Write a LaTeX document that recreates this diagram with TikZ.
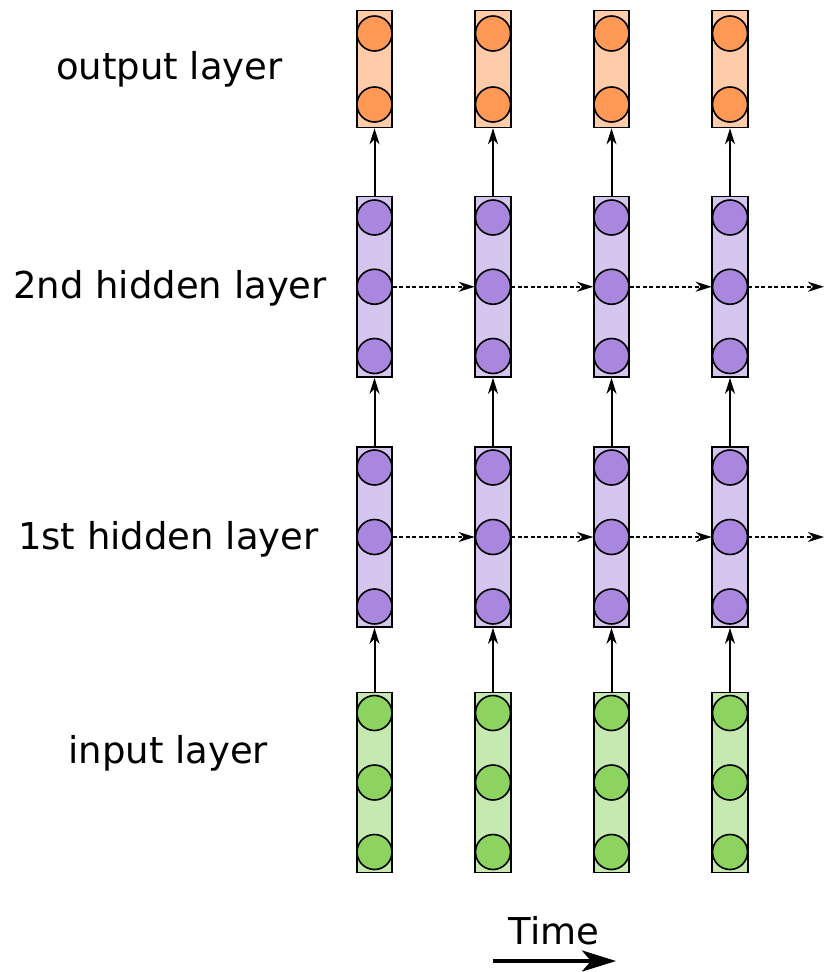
\documentclass[tikz,border=0pt]{standalone}
\usepackage{fontspec}
\setmainfont{DejaVu Sans}
\usetikzlibrary{arrows.meta}
\definecolor{outfill}{RGB}{255,204,170}
\definecolor{outunit}{RGB}{255,153,85}
\definecolor{hidfill}{RGB}{213,198,240}
\definecolor{hidunit}{RGB}{170,135,222}
\definecolor{infill}{RGB}{198,233,178}
\definecolor{inunit}{RGB}{140,211,95}
\tikzset{
  layerbox/.style={draw, line width=1.6pt, inner sep=0pt, minimum width=35.5pt},
  unit/.style={circle, draw, line width=1.6pt, inner sep=0pt, minimum size=35pt},
  feed/.style={line width=2pt, -{Stealth[length=16pt,width=10pt,inset=5pt]}},
  recur/.style={line width=1.5pt, dash pattern=on 4pt off 2.5pt, -{Stealth[length=16pt,width=10pt,inset=5pt]}},
  label/.style={font=\fontsize{37pt}{44pt}\selectfont, inner sep=0pt, anchor=base},
}
\begin{document}
\begin{tikzpicture}[x=1pt,y=-1pt]
\useasboundingbox (0,0) rectangle (824,972);
% layer names
\node[label] (lout) at (169.5,79) {output layer};
\node[label] (lh2) at (170,298.5) {2nd hidden layer};
\node[label] (lh1) at (168.3,549) {1st hidden layer};
\node[label] (lin) at (168.3,763.5) {input layer};
% one column of layers per time step
\foreach \i/\x in {1/374.5,2/493,3/611.5,4/730}{
  % output layer
  \node[layerbox, fill=outfill, minimum height=117pt] (o\i) at (\x,69) {};
  \node[unit, fill=outunit] (o\i a) at (\x,33.5) {};
  \node[unit, fill=outunit] (o\i b) at (\x,104.5) {};
  % second hidden layer
  \node[layerbox, fill=hidfill, minimum height=180.5pt] (h\i) at (\x,286.75) {};
  \node[unit, fill=hidunit] (h\i a) at (\x,217.5) {};
  \node[unit, fill=hidunit] (h\i b) at (\x,286.75) {};
  \node[unit, fill=hidunit] (h\i c) at (\x,356) {};
  % first hidden layer
  \node[layerbox, fill=hidfill, minimum height=180pt] (g\i) at (\x,537) {};
  \node[unit, fill=hidunit] (g\i a) at (\x,467.5) {};
  \node[unit, fill=hidunit] (g\i b) at (\x,537) {};
  \node[unit, fill=hidunit] (g\i c) at (\x,606.5) {};
  % input layer
  \node[layerbox, fill=infill, minimum height=180pt] (n\i) at (\x,782.5) {};
  \node[unit, fill=inunit] (n\i a) at (\x,713) {};
  \node[unit, fill=inunit] (n\i b) at (\x,782.5) {};
  \node[unit, fill=inunit] (n\i c) at (\x,852) {};
  % feed-forward connections
  \draw[feed] (n\i.north) -- (g\i.south);
  \draw[feed] (g\i.north) -- (h\i.south);
  \draw[feed] (h\i.north) -- (o\i.south);
}
% recurrent connections through time
\coordinate (hend) at (824,286.75);
\coordinate (gend) at (824,537);
\foreach \i/\j in {1/2,2/3,3/4}{
  \draw[recur] (h\i b.east) -- (h\j b.west);
  \draw[recur] (g\i b.east) -- (g\j b.west);
}
\draw[recur] (h4b.east) -- (hend);
\draw[recur] (g4b.east) -- (gend);
% time axis
\node[label] (time) at (554,944) {Time};
\coordinate (t0) at (493,961);
\coordinate (t1) at (616,961);
\draw[line width=4pt, -{Stealth[length=34pt,width=21pt,inset=9pt]}] (t0) -- (t1);
\end{tikzpicture}
\end{document}
